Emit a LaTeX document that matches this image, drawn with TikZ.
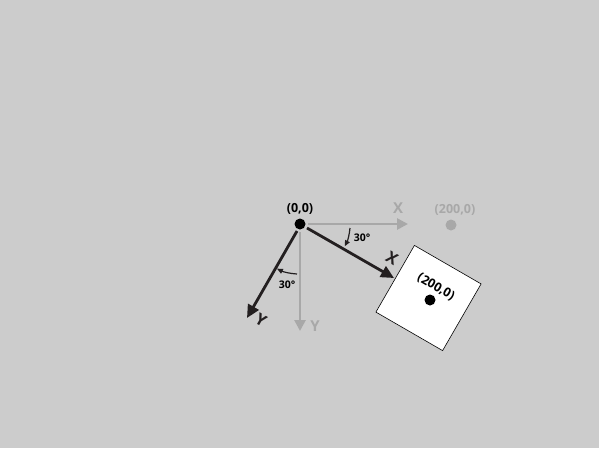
\documentclass[tikz,border=0pt]{standalone}
\usepackage{fontspec}
\setmainfont{Open Sans}
\usetikzlibrary{arrows.meta}
\definecolor{bgc}{HTML}{CCCCCC}
\definecolor{axg}{HTML}{A8A8A8}
\definecolor{axk}{HTML}{231F20}
\begin{document}
\begin{tikzpicture}[x=1pt,y=-1pt,
  dot/.style={circle,fill=#1,inner sep=0pt,minimum size=11pt},
  grayaxis/.style={axg,line width=2.6pt,-{Triangle[length=11pt,width=11pt]}},
  blackaxis/.style={axk,line width=2.8pt,-{Triangle[length=13pt,width=12pt]}},
  anglearc/.style={axk,line width=1.2pt,-{Triangle[length=6pt,width=5pt]}},
  lbl/.style={font=\fontsize{12.5}{14}\selectfont\bfseries,inner sep=0pt},
  small/.style={font=\fontsize{10.5}{12}\selectfont\bfseries,inner sep=0pt,text=black}]
\fill[bgc] (0,0) rectangle (599,448);
\useasboundingbox (0,0) rectangle (599,448);
% square (rotated body)
\draw[black,line width=0.6pt,fill=white,rotate around={-30:(428.5,298)}] (390,259.5) rectangle (467,336.5);
% origin
\node[dot=black] (o) at (300,224) {};
\node[lbl] (olbl) at (300,209) {(0,0)};
% gray frame
\coordinate (gxs) at (308,224);
\coordinate (gxe) at (408,224);
\coordinate (gys) at (300,232);
\coordinate (gye) at (300,331);
\draw[grayaxis] (gxs) -- (gxe);
\draw[grayaxis] (gys) -- (gye);
\node[lbl,text=axg,font=\fontsize{15}{16}\selectfont\bfseries] (gx) at (398,208) {X};
\node[lbl,text=axg,font=\fontsize{15}{16}\selectfont\bfseries] (gy) at (315,326) {Y};
\fill[axg] (451,225) circle (5.5pt);
\node[lbl,text=axg] (glbl) at (455,210) {(200,0)};
% rotated frame
\coordinate (bxs) at (307,228);
\coordinate (bxe) at (394,278);
\coordinate (bys) at (297,231);
\coordinate (bye) at (247,318);
\draw[blackaxis] (bxs) -- (bxe);
\draw[blackaxis] (bys) -- (bye);
\node[lbl,text=axk,font=\fontsize{16}{16}\selectfont\bfseries,rotate=-30] (bx) at (392,258) {X};
\node[lbl,text=axk,font=\fontsize{16}{16}\selectfont\bfseries,rotate=-30] (by) at (261,320) {Y};
\fill[black] (430,300) circle (5.5pt);
\node[lbl,rotate=-30] (blbl) at (436,287) {(200,0)};
% angle arcs
\coordinate (a1s) at (350,228);
\coordinate (a2s) at (297,274);
\draw[anglearc] (a1s) arc[start angle=5,end angle=27,radius=50];
\node[small] (t1) at (362,238) {30°};
\draw[anglearc] (a2s) arc[start angle=93,end angle=117,radius=50];
\node[small] (t2) at (287,285) {30°};
\end{tikzpicture}
\end{document}
